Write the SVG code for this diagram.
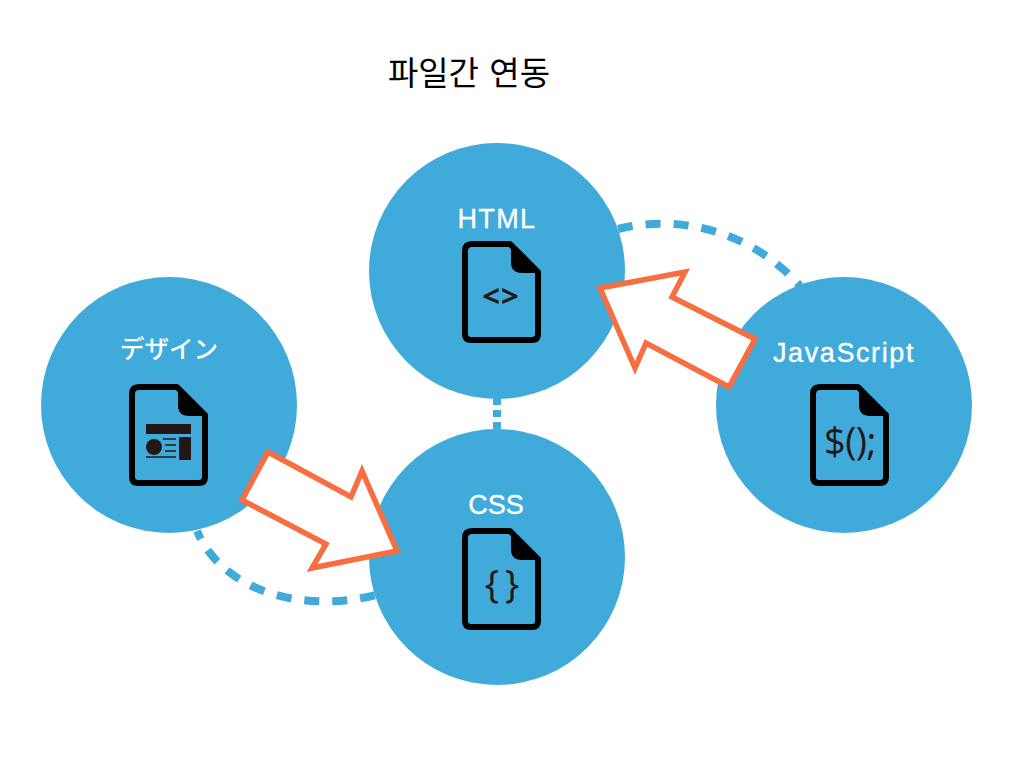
<svg xmlns="http://www.w3.org/2000/svg" width="1024" height="768" viewBox="0 0 1024 768">
<style>
.c{fill:#40aadb}
.l{fill:#fff;stroke:#fff;stroke-width:.35;font-family:"Liberation Sans",Arial,sans-serif;font-size:27px;text-anchor:middle}
.j{fill:#fff;font-family:"Noto Sans CJK JP",sans-serif;font-size:24.5px;font-weight:500;text-anchor:middle}
.g{fill:#231815;font-family:"Open Sans",sans-serif;text-anchor:middle}
.d{fill:none;stroke:#40aadb;stroke-width:8}
.a{fill:#fff;stroke:#f76e40;stroke-width:5.5;stroke-linejoin:miter}
.k{fill:#231815}
.m{stroke:#231815;stroke-width:1.3}
</style>
<defs>
<g id="file">
<path d="M10 3H48L76 31V93Q76 99 70 99H9Q3 99 3 93V10Q3 3 10 3Z" fill="none" stroke="#000" stroke-width="6" stroke-linejoin="round"/>
<path d="M47 2L78 31V32H60Q49 32 49 21V2Z" fill="#000"/>
</g>
</defs>
<rect width="1024" height="768" fill="#fff"/>
<text x="469" y="85" font-family="'Noto Sans CJK KR',sans-serif" font-size="33" word-spacing="3" text-anchor="middle" fill="#000">파일간 연동</text>
<g id="connectors-back">
<path class="d" stroke-dasharray="15 13" d="M618 229A184 184 0 0 1 800 286"/>
<path class="d" stroke-dasharray="15 13" stroke-dashoffset="6" d="M197 531C222 590 300 614 376 595"/>
<path class="d" stroke-dasharray="7 5" d="M497 398V430"/>
</g>
<g id="node-html">
<circle class="c" cx="497" cy="271" r="128"/>
<text class="l" x="497" y="228" letter-spacing="1.4">HTML</text>
<use href="#file" x="462" y="241"/>
<text class="g" x="501" y="307" font-size="31" font-weight="700" letter-spacing="1">&lt;&gt;</text>
</g>
<g id="node-css">
<circle class="c" cx="497" cy="557" r="128"/>
<text class="l" x="496" y="514" letter-spacing="0">CSS</text>
<use href="#file" x="462" y="528"/>
<text class="g" x="502" y="598" font-size="38" font-weight="500" word-spacing="-4">{ }</text>
</g>
<g id="node-design">
<circle class="c" cx="169" cy="405" r="128"/>
<text class="j" x="169" y="358">デザイン</text>
<use href="#file" x="129" y="384"/>
<rect class="k" x="146" y="424" width="45" height="10"/>
<circle class="k" cx="154" cy="447" r="8"/>
<rect class="k" x="179" y="437" width="12" height="23"/>
<path class="m" d="M163 439H176M165 445H176M165 451H176M146 457H176"/>
</g>
<g id="node-js">
<circle class="c" cx="844" cy="405" r="128"/>
<text class="l" x="844" y="362" letter-spacing="1.6">JavaScript</text>
<use href="#file" x="810" y="384"/>
<text class="g" x="850" y="455" font-size="38" font-weight="500" letter-spacing="-.5">$();</text>
</g>
<g id="connectors">
<path class="a" d="M600 288L685 272L672 297L755 339L729 387L646 343L635 368Z"/>
<path class="a" d="M268 452L351 497L362 471L397 551L312 568L326 544L242 500Z"/>
</g>
</svg>
